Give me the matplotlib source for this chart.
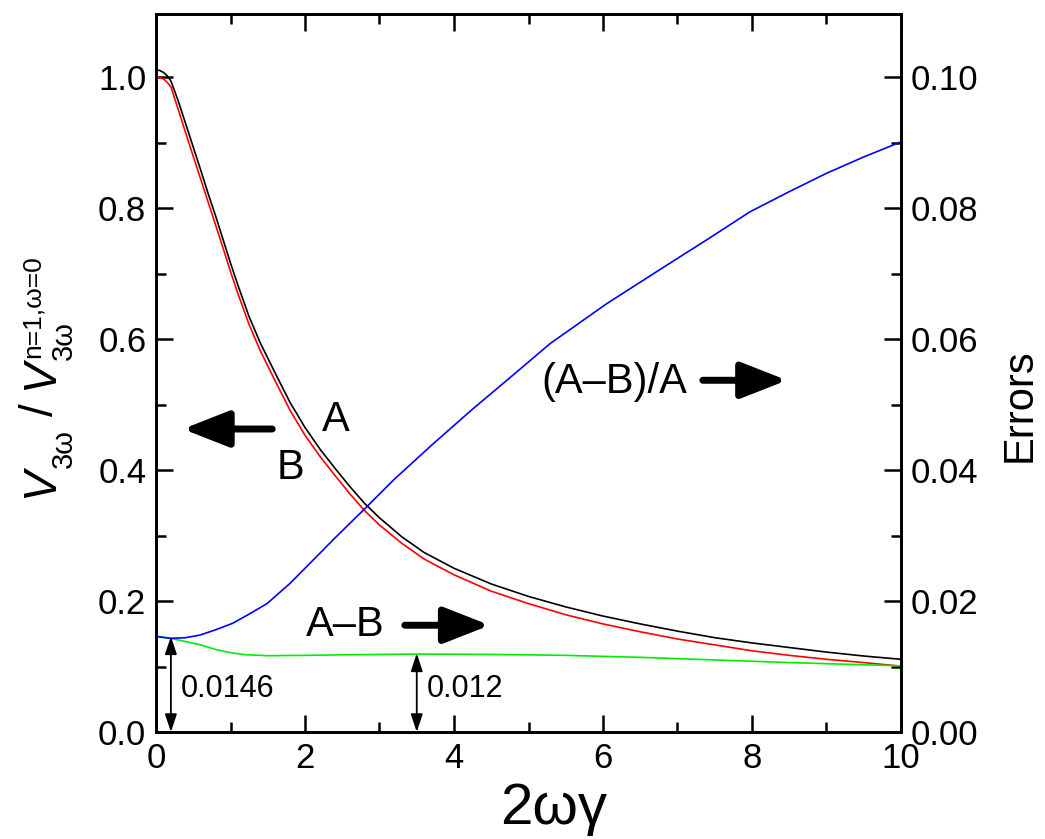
import matplotlib
matplotlib.use('Agg')
import matplotlib.pyplot as plt
from matplotlib.ticker import MultipleLocator

plt.rcParams['font.family'] = ['Liberation Sans', 'DejaVu Sans']

# curve A and B (left axis)
x_ab = [0, 0.05, 0.1, 0.15, 0.2, 0.3, 0.4, 0.5, 0.6, 0.7, 0.8, 0.9, 1.0, 1.1, 1.25, 1.4, 1.6, 1.8,
        2.0, 2.2, 2.4, 2.6, 2.8, 3.0, 3.3, 3.6, 4.0, 4.5, 5.0, 5.5, 6.0, 6.5, 7.0, 7.5, 8.0, 8.5,
        9.0, 9.5, 10]
curve_a = [1.011, 1.010, 1.007, 1.002, 0.994, 0.963, 0.928, 0.893, 0.858, 0.822, 0.788, 0.752,
           0.716, 0.682, 0.634, 0.594, 0.548, 0.503, 0.465, 0.432, 0.403, 0.375, 0.349, 0.327,
           0.298, 0.274, 0.250, 0.226, 0.207, 0.191, 0.177, 0.165, 0.154, 0.144, 0.136, 0.129,
           0.122, 0.116, 0.111]
curve_b = [1.000, 0.999, 0.997, 0.992, 0.985, 0.950, 0.914, 0.879, 0.844, 0.809, 0.774, 0.739,
           0.703, 0.669, 0.622, 0.582, 0.536, 0.491, 0.453, 0.421, 0.392, 0.364, 0.338, 0.316,
           0.288, 0.264, 0.240, 0.215, 0.196, 0.179, 0.165, 0.153, 0.142, 0.133, 0.124, 0.117,
           0.111, 0.106, 0.1005]

# errors (right axis)
x_diff = [0, 0.2, 0.4, 0.6, 0.8, 1.0, 1.2, 1.5, 2.0, 2.6, 3.5, 4.5, 5.5, 6.5, 7.5, 8.5, 10]
diff_ab = [0.0146, 0.0143, 0.0138, 0.0133, 0.0126, 0.0121, 0.0118, 0.01165, 0.0117, 0.0118,
           0.0119, 0.01185, 0.0117, 0.0114, 0.0110, 0.0106, 0.0101]

x_rel = [0, 0.19, 0.4, 0.59, 0.8, 1.03, 1.25, 1.49, 1.8, 2.07, 2.4, 2.83, 3.2, 3.72, 4.26, 4.71,
         5.29, 6.05, 6.86, 7.4, 7.97, 8.5, 9.0, 9.5, 10]
rel_err = [0.0146, 0.0143, 0.0144, 0.0148, 0.0156, 0.0166, 0.0180, 0.0196, 0.0227, 0.0258, 0.0296,
           0.0344, 0.0386, 0.0440, 0.0494, 0.0537, 0.0593, 0.0654, 0.0713, 0.0752, 0.0794, 0.0825,
           0.0853, 0.0878, 0.0901]

# marked values
mark_x = [0.2, 3.5]
mark_val = [0.0146, 0.012]
mark_txt = ['0.0146', '0.012']

W, H = 1045, 839
fig = plt.figure(figsize=(W/100, H/100), dpi=100)
ax = fig.add_axes([156/W, 1-732/H, 745/W, 718.5/H])
ax2 = ax.twinx()

ax.plot(x_ab, curve_a, color='black', lw=1.2)
ax.plot(x_ab, curve_b, color='#ff0000', lw=1.2)
ax2.plot(x_diff, diff_ab, color='#00ee00', lw=1.2)
ax2.plot(x_rel, rel_err, color='#0000ff', lw=1.2)

ax.set_xlim(0, 10)
ax.set_ylim(0, 1.097)
ax2.set_ylim(0, 0.1097)

ax.xaxis.set_major_locator(MultipleLocator(2))
ax.xaxis.set_minor_locator(MultipleLocator(1))
ax.yaxis.set_major_locator(MultipleLocator(0.2))
ax.yaxis.set_minor_locator(MultipleLocator(0.1))
ax2.yaxis.set_major_locator(MultipleLocator(0.02))
ax2.yaxis.set_minor_locator(MultipleLocator(0.01))
ax.yaxis.set_major_formatter(plt.FormatStrFormatter('%.1f'))
ax2.yaxis.set_major_formatter(plt.FormatStrFormatter('%.2f'))

ax.tick_params(axis='x', which='both', direction='in', top=True, labelsize=25, pad=7)
ax.tick_params(axis='y', which='both', direction='in', right=False, labelsize=25, pad=7)
ax2.tick_params(axis='y', which='both', direction='in', labelsize=25, pad=7)
for a in (ax, ax2):
    a.tick_params(which='major', length=12, width=1.8)
    a.tick_params(which='minor', length=7, width=1.8)
    for s in a.spines.values():
        s.set_linewidth(2)

# x and right labels
fig.text(554/W, 1-809/H, '2ωγ', fontsize=42, ha='center', va='center')
fig.text(1020/W, 1-405/H, 'Errors', fontsize=30, rotation=90, ha='center', va='center')

# left label built piece by piece (rotated), going upward from y=498 px
renderer = fig.canvas.get_renderer()


def put(s, y0, xb, size, style='normal'):
    t = fig.text(xb/W, 1 - y0/H, s, fontsize=size, style=style, rotation=90,
                 rotation_mode='anchor', ha='left', va='baseline')
    bb = t.get_window_extent(renderer)
    return H - bb.y1


y = put('V', 498, 53, 33, 'italic')
y = put('3ω', y + 1, 72, 21)
y = put('/', y - 13, 53, 33)
y = put('V', y - 14, 53, 33, 'italic')
put('3ω', y + 1, 72, 21)
put('n=1,ω=0', y - 1, 40, 19)

# text annotations
ax.text(2.42, 0.476, 'A', fontsize=30, ha='center', va='center')
ax.text(1.80, 0.403, 'B', fontsize=30, ha='center', va='center')
ax.text(6.15, 0.534, '(A–B)/A', fontsize=30, ha='center', va='center')
ax.text(2.54, 0.163, 'A–B', fontsize=30, ha='center', va='center')

arrow = dict(arrowstyle='-|>,head_length=1.4,head_width=0.55', lw=5, color='black',
             mutation_scale=20, shrinkA=0, shrinkB=0, capstyle='round')
ax.annotate('', xy=(0.36, 0.4626), xytext=(1.56, 0.4626), arrowprops=arrow)
ax.annotate('', xy=(8.47, 0.537), xytext=(7.34, 0.537), arrowprops=arrow)
ax.annotate('', xy=(4.48, 0.163), xytext=(3.34, 0.163), arrowprops=arrow)

thin = dict(arrowstyle='<|-|>,head_length=0.9,head_width=0.3', lw=1.3, color='black',
            mutation_scale=12, shrinkA=0, shrinkB=0)
for mx, mv, mt in zip(mark_x, mark_val, mark_txt):
    ax2.annotate('', xy=(mx, 0), xytext=(mx, mv), arrowprops=thin)
    ax2.text(mx + 0.13, 0.0066, mt, fontsize=22, ha='left', va='center')

fig.savefig('out.png', dpi=100)
